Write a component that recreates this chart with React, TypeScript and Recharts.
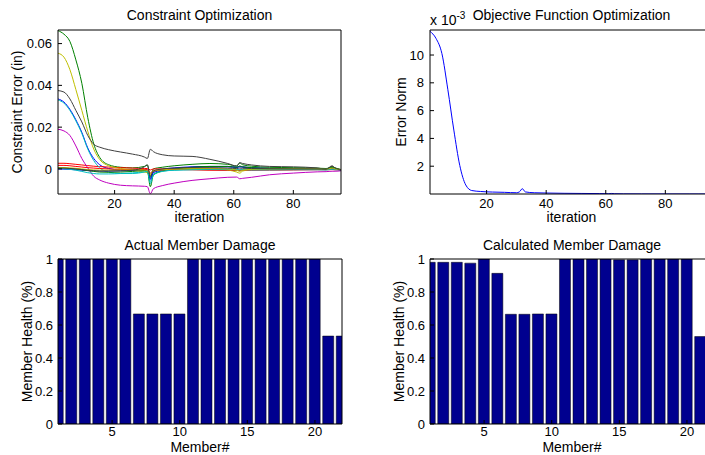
import { LineChart, Line, BarChart, Bar, XAxis, YAxis } from 'recharts';

const FONT = '"Liberation Sans", Arial, Helvetica, sans-serif';

const iterations = [1, 3, 5, 7, 9, 11, 13, 15, 18, 22, 26, 30, 31, 32, 33, 36, 40, 46, 52, 58, 61, 62, 63, 66, 72, 80, 88, 91, 93, 94, 96];

// constraint error (in), one array per member curve
const blue1 = [0.0335, 0.032, 0.0285, 0.0235, 0.0175, 0.01, 0.005, 0.002, 0.0002, -0.0005, -0.0006, -0.0005, -0.001, -0.0045, -0.0015, -0.0002, 0.0005, 0.001, 0.0012, 0.0012, 0.0008, 0.0012, 0.001, 0.0006, 0.0003, 0.0001, 0, -0.0003, 0.0002, -0.0001, -0.0004];
const green1 = [0.0662, 0.0645, 0.061, 0.0522, 0.041, 0.0245, 0.012, 0.0055, 0.002, 0.0008, 0.0005, 0.0012, 0.0018, -0.004, 0, 0.0008, 0.0015, 0.0022, 0.0026, 0.0022, 0.0014, 0.0028, 0.002, 0.0013, 0.0008, 0.0006, 0.0004, 0.0002, 0.001, 0.0005, -0.0003];
const red1 = [0.0027, 0.0027, 0.0025, 0.0022, 0.0019, 0.0016, 0.0013, 0.0011, 0.0009, 0.0006, 0.0004, 0.0002, 0.0002, -0.0005, 0, 0, -0.0002, -0.0004, -0.0006, -0.0007, -0.0008, -0.0005, -0.0006, -0.0006, -0.0006, -0.0005, -0.0004, -0.0004, -0.0003, -0.0004, -0.0005];
const cyan1 = [0.033, 0.0315, 0.028, 0.023, 0.017, 0.0095, 0.004, 0.0005, -0.0015, -0.0022, -0.0022, -0.0015, -0.0012, -0.006, -0.0025, -0.001, -0.0006, -0.0004, -0.0003, -0.0004, -0.0006, -0.0008, -0.0006, -0.0006, -0.0005, -0.0004, -0.0004, -0.0005, -0.0002, -0.0004, -0.0005];
const magenta1 = [0.019, 0.0182, 0.016, 0.011, 0.005, 0.0005, -0.0035, -0.0053, -0.0068, -0.0078, -0.0081, -0.0083, -0.0085, -0.0119, -0.0095, -0.008, -0.0068, -0.0055, -0.0047, -0.004, -0.0039, -0.0047, -0.0045, -0.004, -0.0028, -0.002, -0.0014, -0.0013, -0.0011, -0.0011, -0.0009];
const yellow1 = [0.0554, 0.0535, 0.0475, 0.038, 0.028, 0.018, 0.0095, 0.0045, 0.0015, 0.0002, -0.0005, -0.0015, -0.0018, -0.003, -0.0012, -0.0005, 0, 0.0002, 0.0002, -0.0005, -0.0015, -0.002, -0.001, -0.0003, 0, 0.0002, 0, -0.0002, 0.0003, 0, -0.0003];
const gray1 = [0.0375, 0.0368, 0.0335, 0.028, 0.0225, 0.016, 0.0118, 0.0104, 0.0092, 0.0081, 0.0071, 0.0057, 0.005, 0.0094, 0.0083, 0.0068, 0.0062, 0.006, 0.0046, 0.0026, 0.0014, 0.003, 0.0026, 0.0019, 0.0012, 0.001, 0.0005, -0.0002, 0.0012, 0.0004, -0.0005];
const blue2 = [0, -0.0001, -0.0002, -0.0004, -0.0006, -0.0008, -0.0009, -0.001, -0.001, -0.0009, -0.0007, -0.0004, -0.0004, -0.005, -0.0018, -0.0006, 0.0002, 0.0008, 0.001, 0.001, 0.0007, 0.001, 0.0008, 0.0005, 0.0002, 0.0001, 0, -0.0002, 0.0002, -0.0001, -0.0004];
const green2 = [0.0005, 0.0004, 0.0002, 0, -0.0004, -0.0008, -0.0012, -0.0015, -0.0016, -0.0015, -0.0012, -0.0008, -0.001, -0.0085, -0.003, -0.001, 0, 0.0008, 0.0012, 0.0012, 0.0008, 0.0014, 0.001, 0.0006, 0.0003, 0.0002, 0.0001, -0.0001, 0.0008, 0.0002, -0.0003];
const red2 = [0.0017, 0.0017, 0.0015, 0.0012, 0.0009, 0.0006, 0.0004, 0.0002, 0, -0.0002, -0.0003, -0.0003, -0.0004, -0.002, -0.0008, -0.0004, -0.0003, -0.0003, -0.0004, -0.0004, -0.0005, -0.0007, -0.0005, -0.0004, -0.0003, -0.0003, -0.0002, -0.0003, 0, -0.0002, -0.0004];
const cyan2 = [0.0002, 0.0001, -0.0002, -0.0006, -0.0012, -0.0018, -0.0022, -0.0024, -0.0024, -0.0022, -0.0019, -0.0014, -0.0012, -0.007, -0.003, -0.0012, -0.0006, -0.0003, -0.0002, -0.0002, -0.0003, -0.0004, -0.0003, -0.0003, -0.0002, -0.0002, -0.0002, -0.0003, -0.0001, -0.0002, -0.0004];
const yellow2 = [0.0006, 0.0006, 0.0005, 0.0003, 0, -0.0003, -0.0005, -0.0006, -0.0006, -0.0005, -0.0004, -0.0005, -0.0008, -0.0025, -0.001, -0.0004, -0.0001, 0.0001, 0.0002, 0, -0.0006, -0.0012, -0.0006, -0.0002, 0, 0.0001, 0, -0.0002, 0.0004, 0, -0.0003];
const gray2 = [0.0004, 0.0004, 0.0002, 0, -0.0003, -0.0006, -0.0008, -0.001, -0.001, -0.0009, -0.0006, 0.001, 0.002, -0.0035, -0.001, 0, 0.0004, 0.0006, 0.0006, 0.0004, 0.0002, 0.0004, 0.0003, 0.0002, 0.0001, 0, 0, -0.0002, 0.0015, 0.0005, -0.0004];

// error norm, in units of 10^-3
const errorNorm = [11.7, 11.2, 10.1, 7.5, 4.6, 2.05, 0.65, 0.25, 0.18, 0.14, 0.12, 0.09, 0.15, 0.38, 0.15, 0.09, 0.07, 0.05, 0.04, 0.03, 0.02, 0.04, 0.02, 0.01, 0.005, 0.003, 0.002, 0.001, 0.002, 0.001, 0.001];

const members = [1, 2, 3, 4, 5, 6, 7, 8, 9, 10, 11, 12, 13, 14, 15, 16, 17, 18, 19, 20, 21, 22];
const actualHealth = [1, 1, 1, 1, 1, 1, 0.667, 0.667, 0.667, 0.667, 1, 1, 1, 1, 1, 1, 1, 1, 1, 1, 0.533, 0.533];
const calculatedHealth = [0.98, 0.98, 0.98, 0.975, 1, 0.913, 0.665, 0.665, 0.667, 0.667, 1, 1, 1, 1, 0.995, 0.995, 1, 1, 1, 1, 0.53, 0.53];

const iterTicks = [20, 40, 60, 80];
const constraintTicks = [0, 0.02, 0.04, 0.06];
const normTicks = [2, 4, 6, 8, 10];
const memberTicks = [5, 10, 15, 20];
const healthTicks = [0, 0.2, 0.4, 0.6, 0.8, 1];

// matlab's old default color order
const constraintSeries = [
    { key: 'b1', values: blue1, color: '#0000ff' },
    { key: 'g1', values: green1, color: '#008000' },
    { key: 'r1', values: red1, color: '#ff0000' },
    { key: 'c1', values: cyan1, color: '#00bfbf' },
    { key: 'm1', values: magenta1, color: '#bf00bf' },
    { key: 'y1', values: yellow1, color: '#bfbf00' },
    { key: 'k1', values: gray1, color: '#404040' },
    { key: 'b2', values: blue2, color: '#0000ff' },
    { key: 'g2', values: green2, color: '#008000' },
    { key: 'r2', values: red2, color: '#ff0000' },
    { key: 'c2', values: cyan2, color: '#00bfbf' },
    { key: 'y2', values: yellow2, color: '#bfbf00' },
    { key: 'k2', values: gray2, color: '#404040' },
];

const constraintRows = iterations.map((it, i) => {
    const row: Record<string, number> = { it };
    constraintSeries.forEach(s => { row[s.key] = s.values[i]; });
    return row;
});
const normRows = iterations.map((it, i) => ({ it, norm: errorNorm[i] }));
const actualRows = members.map((m, i) => ({ member: m, health: actualHealth[i] }));
const calculatedRows = members.map((m, i) => ({ member: m, health: calculatedHealth[i] }));

const FS = 14;
const axisStroke = { stroke: '#000', strokeWidth: 1 };
const tickText = { fill: '#000', fontSize: 13 };

const YLabel = (props: any) => {
    const { viewBox, text, dx } = props;
    const x = viewBox.x + dx;
    const y = viewBox.y + viewBox.height / 2;
    return (
        <text x={x} y={y} transform={`rotate(-90, ${x}, ${y})`} textAnchor="middle"
            dominantBaseline="central" fontSize={FS} fill="#000">{text}</text>
    );
};

const XLabel = (props: any) => {
    const { viewBox, text, dy } = props;
    return (
        <text x={viewBox.x + viewBox.width / 2} y={viewBox.y + viewBox.height - dy}
            textAnchor="middle" fontSize={FS} fill="#000">{text}</text>
    );
};

// top and right edges of the box, ticks pointing in (1px thick so recharts draws them)
const frameAxes = (xDomain: number[], xTicks: number[], yDomain: number[], yTicks: number[]) => [
    <XAxis key="xt" xAxisId="top" orientation="top" type="number" domain={xDomain} ticks={xTicks}
        height={1} tick={false} tickSize={-4} axisLine={axisStroke} tickLine={axisStroke} allowDataOverflow />,
    <YAxis key="yr" yAxisId="right" orientation="right" type="number" domain={yDomain} ticks={yTicks}
        width={1} tick={false} tickSize={-4} axisLine={axisStroke} tickLine={axisStroke} allowDataOverflow />,
];

const Title = ({ text, left, width, top }: { text: string; left: number; width: number; top: number }) => (
    <div style={{ position: 'absolute', left, width, top, textAlign: 'center', fontSize: FS, lineHeight: '16px', whiteSpace: 'nowrap' }}>
        {text}
    </div>
);

export default function App() {
    return (
        <div style={{ position: 'fixed', left: 0, top: 0, width: 705, height: 455, overflow: 'hidden', background: '#fff', fontFamily: FONT, color: '#000' }}>
            <Title text="Constraint Optimization" left={58} width={283} top={7} />
            <Title text="Objective Function Optimization" left={430} width={283} top={7} />
            <Title text="Actual Member Damage" left={58} width={284} top={237} />
            <Title text="Calculated Member Damage" left={430} width={284} top={237} />
            <div style={{ position: 'absolute', left: 430, top: 12, fontSize: FS, lineHeight: '16px', whiteSpace: 'nowrap' }}>
                x 10<span style={{ fontSize: 10, position: 'relative', top: -6 }}>-3</span>
            </div>

            <div style={{ position: 'absolute', left: 0, top: 0 }}>
                <LineChart width={350} height={232} data={constraintRows} margin={{ top: 29, right: 8, bottom: 0, left: 8 }}>
                    <XAxis dataKey="it" type="number" domain={[1, 96]} ticks={iterTicks} allowDataOverflow height={38}
                        tickSize={-4} tickMargin={9} tick={tickText} axisLine={axisStroke} tickLine={axisStroke}
                        label={<XLabel text="iteration" dy={10} />} />
                    <YAxis type="number" domain={[-0.012, 0.0665]} ticks={constraintTicks} allowDataOverflow width={50}
                        tickSize={-4} tickMargin={10} tick={tickText} axisLine={axisStroke} tickLine={axisStroke}
                        tickFormatter={(v: number) => String(v)}
                        label={<YLabel text="Constraint Error (in)" dx={9} />} />
                    {frameAxes([1, 96], iterTicks, [-0.012, 0.0665], constraintTicks)}
                    {constraintSeries.map(s => (
                        <Line key={s.key} dataKey={s.key} stroke={s.color} strokeWidth={1} dot={false}
                            type="monotone" isAnimationActive={false} />
                    ))}
                </LineChart>
            </div>

            <div style={{ position: 'absolute', left: 350, top: 0 }}>
                <LineChart width={370} height={232} data={normRows} margin={{ top: 29, right: 6, bottom: 0, left: 30 }}>
                    <XAxis dataKey="it" type="number" domain={[1, 96]} ticks={iterTicks} allowDataOverflow height={38}
                        tickSize={-4} tickMargin={9} tick={tickText} axisLine={axisStroke} tickLine={axisStroke}
                        label={<XLabel text="iteration" dy={10} />} />
                    <YAxis type="number" domain={[0, 11.8]} ticks={normTicks} allowDataOverflow width={50}
                        tickSize={-4} tickMargin={10} tick={tickText} axisLine={axisStroke} tickLine={axisStroke}
                        label={<YLabel text="Error Norm" dx={21} />} />
                    {frameAxes([1, 96], iterTicks, [0, 11.8], normTicks)}
                    <Line dataKey="norm" stroke="#0000ff" strokeWidth={1} dot={false} type="monotone" isAnimationActive={false} />
                </LineChart>
            </div>

            <div style={{ position: 'absolute', left: 0, top: 220 }}>
                <BarChart width={350} height={235} data={actualRows} margin={{ top: 38, right: 7, bottom: 0, left: 8 }}>
                    <XAxis dataKey="member" type="number" domain={[1, 22]} ticks={memberTicks} allowDataOverflow height={31}
                        tickSize={-4} tickMargin={7} tick={tickText} axisLine={axisStroke} tickLine={axisStroke}
                        label={<XLabel text="Member#" dy={3} />} />
                    <YAxis type="number" domain={[0, 1]} ticks={healthTicks} allowDataOverflow width={50}
                        tickSize={-4} tickMargin={9} tick={tickText} axisLine={axisStroke} tickLine={axisStroke}
                        tickFormatter={(v: number) => String(v)}
                        label={<YLabel text="Member Health (%)" dx={19} />} />
                    {frameAxes([1, 22], memberTicks, [0, 1], healthTicks)}
                    <Bar dataKey="health" fill="#00008f" stroke="#000" strokeWidth={0.5} barSize={11} isAnimationActive={false} />
                </BarChart>
            </div>

            <div style={{ position: 'absolute', left: 350, top: 220 }}>
                <BarChart width={370} height={235} data={calculatedRows} margin={{ top: 38, right: 5, bottom: 0, left: 30 }}>
                    <XAxis dataKey="member" type="number" domain={[1, 22]} ticks={memberTicks} allowDataOverflow height={31}
                        tickSize={-4} tickMargin={7} tick={tickText} axisLine={axisStroke} tickLine={axisStroke}
                        label={<XLabel text="Member#" dy={3} />} />
                    <YAxis type="number" domain={[0, 1]} ticks={healthTicks} allowDataOverflow width={50}
                        tickSize={-4} tickMargin={9} tick={tickText} axisLine={axisStroke} tickLine={axisStroke}
                        tickFormatter={(v: number) => String(v)}
                        label={<YLabel text="Member Health (%)" dx={19} />} />
                    {frameAxes([1, 22], memberTicks, [0, 1], healthTicks)}
                    <Bar dataKey="health" fill="#00008f" stroke="#000" strokeWidth={0.5} barSize={11} isAnimationActive={false} />
                </BarChart>
            </div>
        </div>
    );
}
